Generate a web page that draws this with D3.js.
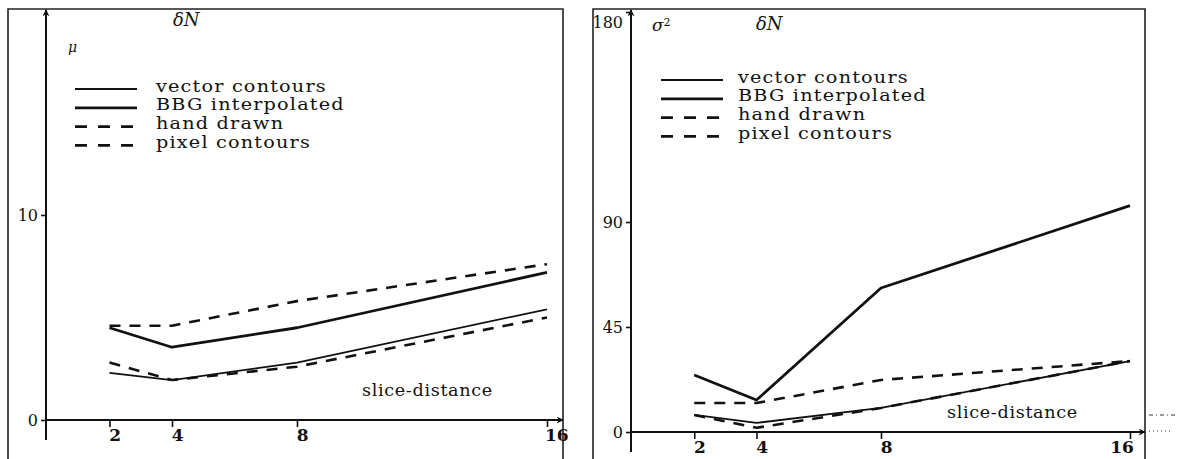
<!DOCTYPE html>
<html>
<head>
<meta charset="utf-8">
<script src="https://cdn.jsdelivr.net/npm/d3@7"></script>
<style>
  body { margin: 0; background: #fff; }
  svg { display: block; }
  .tick line { stroke: #111; stroke-width: 1.6; }
  .tick text { font-family: "DejaVu Serif", serif; fill: #111; }
</style>
</head>
<body>
<div id="chart"></div>
<script>
// slice distances on the x axis
const sliceDistances = [2, 4, 8, 16];
const seriesNames = ["vector contours", "BBG interpolated", "hand drawn", "pixel contours"];

// mean (mu) of delta N
const muVector = [2.3, 1.95, 2.8, 5.4];
const muBBG = [4.5, 3.55, 4.5, 7.2];
const muHand = [2.8, 1.95, 2.6, 5.0];
const muPixel = [4.6, 4.6, 5.8, 7.6];
const muTicks = [0, 10];

// variance (sigma^2) of delta N
const sigVector = [7.3, 3.9, 10.3, 30.4];
const sigBBG = [24.4, 13.7, 61.7, 97];
const sigHand = [7.3, 1.8, 10.3, 30.4];
const sigPixel = [12.4, 12.4, 22.3, 30.4];
const sigTicks = [0, 45, 90, 180];

const lineStyles = [
  { width: 1.8, dash: null },
  { width: 2.8, dash: null },
  { width: 2.6, dash: "11,9" },
  { width: 2.6, dash: "11,9" }
];

const svg = d3.select("#chart").append("svg")
  .attr("width", 1181)
  .attr("height", 459);

const defs = svg.append("defs");
defs.append("marker")
  .attr("id", "arrow")
  .attr("viewBox", "0 0 10 10")
  .attr("refX", 9).attr("refY", 5)
  .attr("markerWidth", 9).attr("markerHeight", 7)
  .attr("markerUnits", "userSpaceOnUse")
  .attr("orient", "auto")
  .append("path")
  .attr("d", "M0,0 L10,5 L0,10 L3,5 Z")
  .attr("fill", "#111");

// the scanned typeface is wider than anything installed, so stretch a bit
function widen(sel, k) {
  sel.each(function() {
    const w = this.getComputedTextLength();
    d3.select(this).attr("textLength", w * k).attr("lengthAdjust", "spacingAndGlyphs");
  });
}

function drawPanel(cfg) {
  const g = svg.append("g");

  // scanned frame
  g.append("path")
    .attr("d", `M${cfg.frame[0]},470 V9 H${cfg.frame[1]} V470`)
    .attr("fill", "none")
    .attr("stroke", "#222")
    .attr("stroke-width", 1.6);

  const x = d3.scaleLinear().domain([0, 16]).range(cfg.xRange);
  const y = d3.scaleLinear().domain(cfg.yDomain).range(cfg.yRange);
  const x0 = x(0) - 1, y0 = y(0);

  // axes with arrows
  g.append("line")
    .attr("x1", x0).attr("y1", y0 + 20)
    .attr("x2", x0).attr("y2", 10)
    .attr("stroke", "#111").attr("stroke-width", 2)
    .attr("marker-end", "url(#arrow)");
  g.append("line")
    .attr("x1", x0).attr("y1", y0)
    .attr("x2", cfg.frame[1]).attr("y2", y0)
    .attr("stroke", "#111").attr("stroke-width", 2)
    .attr("marker-end", "url(#arrow)");

  const yAxis = g.append("g")
    .attr("transform", `translate(${x0},0)`)
    .call(d3.axisLeft(y).tickValues(cfg.yTicks).tickSize(5).tickPadding(3).tickFormat(d3.format("d")));
  yAxis.select(".domain").remove();
  yAxis.selectAll("text").style("font-size", "16px");
  yAxis.selectAll(".tick").filter(d => d === 180).select("text").attr("dy", "0.95em");

  const xAxis = g.append("g")
    .attr("transform", `translate(0,${y0})`)
    .call(d3.axisBottom(x).tickValues(sliceDistances).tickSize(7).tickPadding(2));
  xAxis.select(".domain").remove();
  xAxis.selectAll("text")
    .style("font-size", "17px")
    .style("font-weight", "bold")
    .attr("dx", d => d === 16 ? cfg.dx16 : "0.3em");

  // series
  const line = d3.line()
    .x((d, i) => x(sliceDistances[i]))
    .y(d => y(d));
  cfg.series.forEach((vals, i) => {
    g.append("path")
      .datum(vals)
      .attr("d", line)
      .attr("fill", "none")
      .attr("stroke", "#111")
      .attr("stroke-width", lineStyles[i].width)
      .attr("stroke-dasharray", lineStyles[i].dash)
      .attr("stroke-linejoin", "round");
  });

  // legend
  seriesNames.forEach((name, i) => {
    const ly = cfg.legendY + i * cfg.legendGap;
    g.append("line")
      .attr("x1", cfg.legendX).attr("x2", cfg.legendX + cfg.legendLen)
      .attr("y1", ly + 3).attr("y2", ly + 3)
      .attr("stroke", "#111")
      .attr("stroke-width", lineStyles[i].width)
      .attr("stroke-dasharray", lineStyles[i].dash ? "12,11" : null);
    g.append("text")
      .attr("x", cfg.legendTextX)
      .attr("y", ly)
      .attr("dy", "0.35em")
      .style("font-family", "DejaVu Serif, serif")
      .style("font-size", "16px")
      .style("letter-spacing", "1px")
      .attr("fill", "#111")
      .text(name)
      .call(widen, 1.2);
  });

  // titles
  g.append("text")
    .attr("x", cfg.titleX).attr("y", cfg.titleY)
    .style("font-family", "DejaVu Serif, serif")
    .style("font-style", "italic")
    .style("font-size", "18px")
    .attr("fill", "#111")
    .text("δN");
  const q = g.append("text")
    .attr("x", cfg.qX).attr("y", cfg.qY)
    .style("font-family", "DejaVu Serif, serif")
    .style("font-style", "italic")
    .style("font-size", cfg.qSize)
    .attr("fill", "#111")
    .text(cfg.qText);
  if (cfg.qSup) {
    q.append("tspan").attr("dy", "-0.5em").style("font-size", "11px").style("font-style", "normal").text(cfg.qSup);
  }

  g.append("text")
    .attr("x", cfg.sliceX).attr("y", cfg.sliceY)
    .attr("dy", "0.35em")
    .style("font-family", "DejaVu Serif, serif")
    .style("font-size", "16px")
    .style("letter-spacing", "0.6px")
    .attr("fill", "#111")
    .text("slice-distance")
    .call(widen, 1.1);

  return g;
}

drawPanel({
  frame: [8, 563],
  xRange: [47, 547],
  yDomain: [0, 10],
  yRange: [420, 215],
  yTicks: muTicks,
  series: [muVector, muBBG, muHand, muPixel],
  legendX: 75, legendY: 86, legendGap: 18.8, legendLen: 62, legendTextX: 156,
  titleX: 173, titleY: 26,
  qX: 68, qY: 52, qText: "μ", qSize: "14px", qSup: null,
  sliceX: 362, sliceY: 390, dx16: "0.55em"
});

drawPanel({
  frame: [593, 1145],
  xRange: [632, 1130],
  yDomain: [0, 180],
  yRange: [432, 12],
  yTicks: sigTicks,
  series: [sigVector, sigBBG, sigHand, sigPixel],
  legendX: 661, legendY: 77, legendGap: 18.8, legendLen: 62, legendTextX: 738,
  titleX: 756, titleY: 30,
  qX: 652, qY: 31, qText: "σ", qSize: "17px", qSup: "2",
  sliceX: 947, sliceY: 412, dx16: "-0.5em"
});

// scanner specks at the right edge
const specks = [415, 431];
specks.forEach((sy, i) => {
  svg.append("line")
    .attr("x1", 1149).attr("x2", i === 0 ? 1178 : 1172)
    .attr("y1", sy).attr("y2", sy)
    .attr("stroke", "#333").attr("stroke-width", 1)
    .attr("stroke-dasharray", i === 0 ? "4,3,1,3" : "1,3");
});
</script>
</body>
</html>
